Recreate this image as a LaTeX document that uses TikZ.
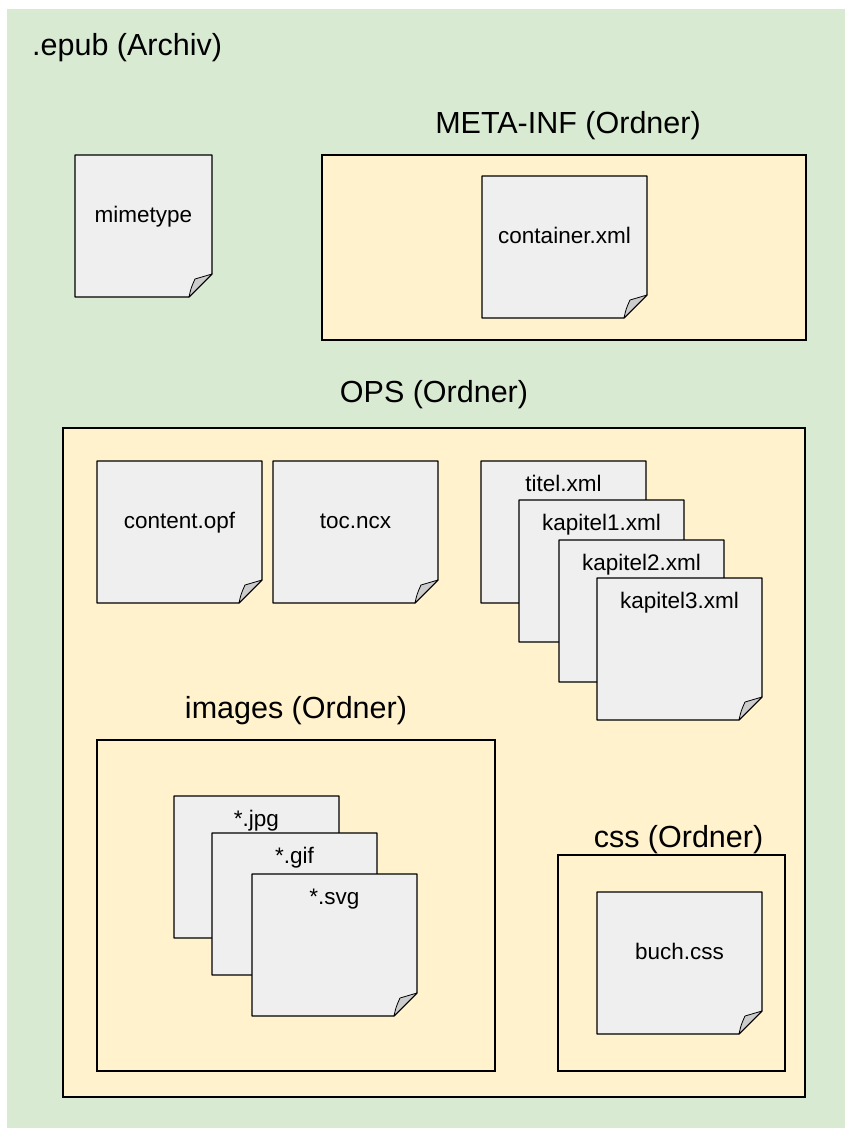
\documentclass[tikz,border=0pt]{standalone}
\usepackage{fontspec}
\setmainfont{Liberation Sans}
\usetikzlibrary{calc}

\definecolor{archivgreen}{HTML}{D9EAD3}
\definecolor{ordnergelb}{HTML}{FFF2CC}
\definecolor{blattgrau}{HTML}{EFEFEF}
\definecolor{eckegrau}{HTML}{CCCCCC}

\tikzset{
    ordner/.style={draw=black,fill=ordnergelb,line width=1.2pt,anchor=north west,inner sep=0pt,outer sep=0pt},
    ordnerlabel/.style={font=\fontsize{30.5}{36}\selectfont,anchor=base,inner sep=0pt},
    docpage/.style={draw=black,fill=blattgrau,line width=1.1pt,line join=round},
    docfold/.style={draw=black,fill=eckegrau,line width=0.8pt,line join=round},
    doclabel/.style={font=\fontsize{22.5}{27}\selectfont,anchor=base,inner sep=0pt},
}

% sheet with dog ear: [width]{name}{top left}{text}{baseline below top}
\newcommand\docfile[5][165]{%
    \begin{scope}[shift={(#3)}]
        \draw[docpage] (0,0) -- (#1,0) -- (#1,119) -- ({#1-23},142) -- (0,142) -- cycle;
        \draw[docfold] ({#1-23},142) .. controls ({#1-21},133) .. ({#1-17},124) -- (#1,119) -- cycle;
        \node[doclabel] (#2) at ({#1/2},#5) {#4};
    \end{scope}}

\begin{document}
\begin{tikzpicture}[x=1pt,y=-1pt]
    \useasboundingbox (0,0) rectangle (845,1128);
    \fill[archivgreen] (7,9) rectangle (845,1128);
    \node[ordnerlabel,anchor=base west] (epub) at (32,55) {.epub (Archiv)};

    % META-INF
    \node[ordner,minimum width=484pt,minimum height=185pt] (metainf) at (322,155) {};
    \node[ordnerlabel] (metainf-label) at ([xshift=4pt,yshift=22pt]metainf.north) {META-INF (Ordner)};
    \docfile[137]{mimetype}{75,155}{mimetype}{67}
    \docfile{container}{482,176}{container.xml}{67}

    % OPS
    \node[ordner,minimum width=742pt,minimum height=669pt] (ops) at (63,428) {};
    \node[ordnerlabel] (ops-label) at ([yshift=26pt]ops.north) {OPS (Ordner)};
    \docfile{contentopf}{97,461}{content.opf}{67}
    \docfile{tocncx}{273,461}{toc.ncx}{67}
    \docfile{titel}{481,461}{titel.xml}{30}
    \docfile{kapitel1}{519,500}{kapitel1.xml}{30}
    \docfile{kapitel2}{559,540}{kapitel2.xml}{30}
    \docfile{kapitel3}{597,578}{kapitel3.xml}{30}

    % images
    \node[ordner,minimum width=398pt,minimum height=331pt] (images) at (97,740) {};
    \node[ordnerlabel] (images-label) at ([yshift=22pt]images.north) {images (Ordner)};
    \docfile{jpg}{174,796}{*.jpg}{30}
    \docfile{gif}{212,833}{*.gif}{30}
    \docfile{svg}{252,874}{*.svg}{30}

    % css
    \node[ordner,minimum width=227pt,minimum height=216pt] (css) at (558,855) {};
    \node[ordnerlabel] (css-label) at ([xshift=7pt,yshift=8pt]css.north) {css (Ordner)};
    \docfile{buchcss}{597,892}{buch.css}{67}
\end{tikzpicture}
\end{document}
